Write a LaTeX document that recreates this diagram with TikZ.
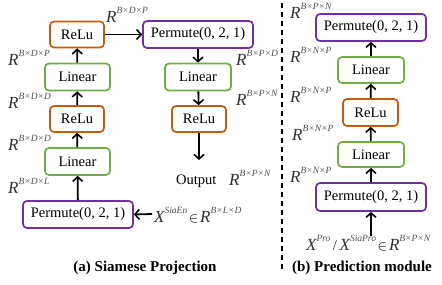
\documentclass[tikz,border=0pt]{standalone}
\usepackage{fontspec}
\setmainfont{Liberation Serif}
\usetikzlibrary{arrows.meta}
\definecolor{relucol}{HTML}{C55A11}
\definecolor{lincol}{HTML}{70AD47}
\definecolor{permcol}{HTML}{7030A0}
\definecolor{supgray}{HTML}{505050}
\definecolor{rgray}{HTML}{303030}
\newcommand{\Rsup}[2]{{\color{rgray}\fontsize{17}{17}\selectfont\itshape #1}\raisebox{9pt}{\fontsize{9.5}{9.5}\selectfont\itshape\color{supgray}#2}}
\tikzset{
  box/.style={draw, rounded corners=4pt, line width=1.7pt, fill=white, inner sep=0pt, font=\fontsize{14.5}{14.5}\selectfont},
  relubox/.style={box, draw=relucol, minimum width=54pt, minimum height=26pt},
  linbox/.style={box, draw=lincol, minimum width=66pt, minimum height=27pt},
  permbox/.style={box, draw=permcol, minimum width=110pt, minimum height=27pt},
  arr/.style={-{Straight Barb[length=4.5pt,width=10pt,line width=1.6pt]}, line width=1.8pt},
  lab/.style={anchor=base west, inner sep=0pt},
  ttl/.style={anchor=base, inner sep=0pt, font=\fontsize{15}{15}\selectfont\bfseries}
}
\begin{document}
\begin{tikzpicture}[x=1pt,y=-1pt]
\useasboundingbox (0,0) rectangle (442,284);
% (a)
\node[relubox] (reluA) at (77,34.5) {ReLu};
\node[linbox, minimum width=65pt] (linA) at (77.5,77) {Linear};
\node[relubox] (reluB) at (77,119) {ReLu};
\node[linbox, minimum width=65pt] (linB) at (77.5,161.5) {Linear};
\node[permbox] (permA) at (78,214.5) {Permute(0, 2, 1)};
\node[permbox] (permB) at (198,34.5) {Permute(0, 2, 1)};
\node[linbox] (linC) at (198,77) {Linear};
\node[relubox] (reluC) at (199,119) {ReLu};
\node[lab, font=\fontsize{14.5}{14.5}\selectfont] (out) at (176,184) {Output};
\coordinate (outtop) at (199,160);
\node[lab] (xsia) at (154,222) {{\color{rgray}\fontsize{17}{17}\selectfont\itshape X}\raisebox{9pt}{\fontsize{9.5}{9.5}\selectfont\itshape\color{supgray}SiaEn}\,{\fontsize{15}{15}\selectfont$\in$}\,\Rsup{R}{B×L×D}};
\coordinate (xsiaW) at (152,214);

\draw[arr] (linA) -- (reluA);
\draw[arr] (reluB) -- (linA);
\draw[arr] (linB) -- (reluB);
\draw[arr] (permA) -- (linB);
\draw[arr] (reluA) -- (permB);
\draw[arr] (permB) -- (linC);
\draw[arr] (linC) -- (reluC);
\draw[arr] (reluC.south) -- (outtop);
\draw[arr] (xsiaW) -- (permA.east);

\node[lab] (la1) at (106,22) {\Rsup{R}{B×D×P}};
\node[lab] (la2) at (8,65) {\Rsup{R}{B×D×P}};
\node[lab] (la3) at (8,108) {\Rsup{R}{B×D×D}};
\node[lab] (la4) at (8,150) {\Rsup{R}{B×D×D}};
\node[lab] (la5) at (8,193) {\Rsup{R}{B×D×L}};
\node[lab] (la6) at (236,65) {\Rsup{R}{B×P×D}};
\node[lab] (la7) at (236,105) {\Rsup{R}{B×P×N}};
\node[lab] (la8) at (229,185) {\Rsup{R}{B×P×N}};

\node[ttl] (ta) at (145,271) {(a) Siamese Projection};

% divider
\coordinate (dtop) at (282,3);
\coordinate (dbot) at (282,270);
\draw[line width=1.8pt, dash pattern=on 5pt off 4pt] (dtop) -- (dbot);

% (b)
\node[permbox] (permR1) at (371,27.5) {Permute(0, 2, 1)};
\node[linbox, minimum height=26pt] (linR1) at (371,70) {Linear};
\node[relubox, minimum width=55pt, minimum height=27pt] (reluR) at (370.5,112.5) {ReLu};
\node[linbox, minimum height=25pt] (linR2) at (371,154.5) {Linear};
\node[permbox, minimum height=28pt] (permR2) at (371,197) {Permute(0, 2, 1)};
\coordinate (inR) at (371,236);

\draw[arr] (inR) -- (permR2);
\draw[arr] (permR2) -- (linR2);
\draw[arr] (linR2) -- (reluR);
\draw[arr] (reluR) -- (linR1);
\draw[arr] (linR1) -- (permR1);

\node[lab] (lb1) at (290,18) {\Rsup{R}{B×P×N}};
\node[lab] (lb2) at (290,62) {\Rsup{R}{B×N×P}};
\node[lab] (lb3) at (290,102) {\Rsup{R}{B×N×P}};
\node[lab] (lb4) at (292,140) {\Rsup{R}{B×N×P}};
\node[lab] (lb5) at (290,182) {\Rsup{R}{B×N×P}};
\node[lab] (xin) at (306,250) {{\color{rgray}\fontsize{17}{17}\selectfont\itshape X}\raisebox{9pt}{\fontsize{9.5}{9.5}\selectfont\itshape\color{supgray}Pro}\ {\color{rgray}\fontsize{15}{15}\selectfont /}\ {\color{rgray}\fontsize{17}{17}\selectfont\itshape X}\raisebox{9pt}{\fontsize{9.5}{9.5}\selectfont\itshape\color{supgray}SiaPro}\,{\fontsize{15}{15}\selectfont$\in$}\,\Rsup{R}{B×P×N}};

\node[ttl] (tb) at (362,271) {(b) Prediction module};
\end{tikzpicture}
\end{document}
